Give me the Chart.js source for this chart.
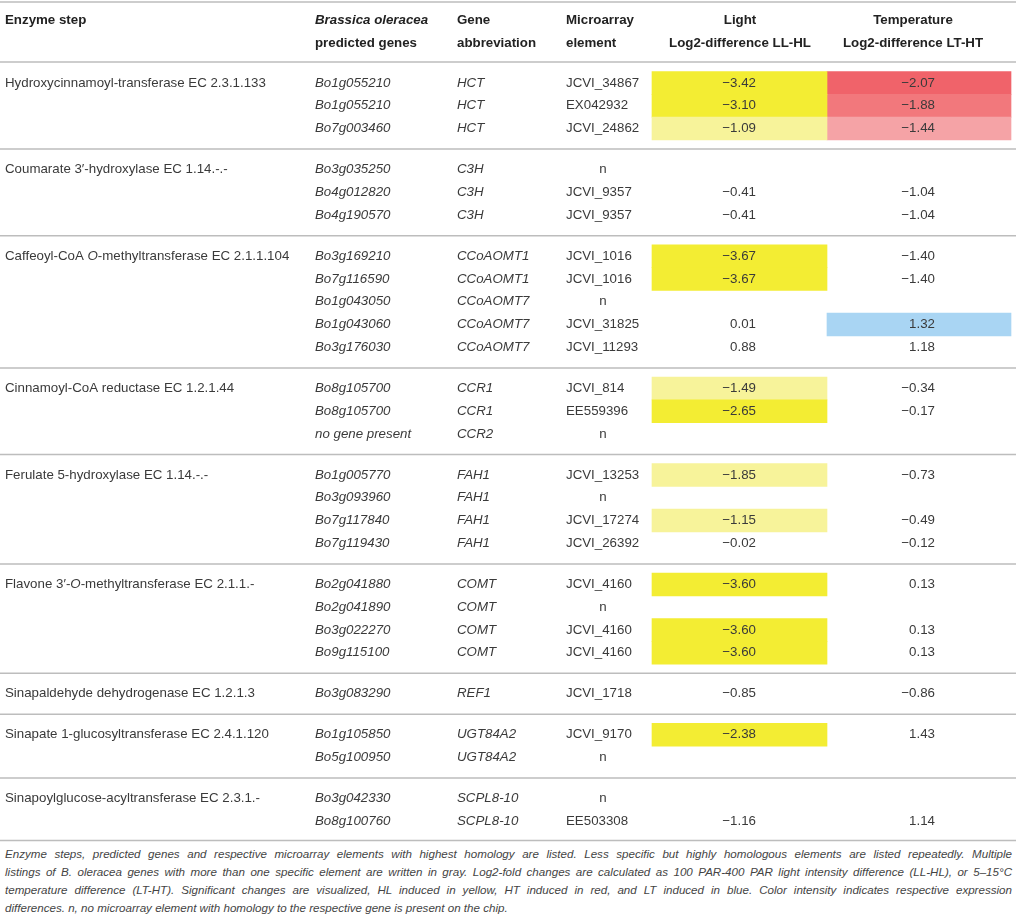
<!DOCTYPE html>
<html lang="en">
<head>
  <meta charset="UTF-8" />
  <title>Phenylpropanoid genes – log2 differences</title>
  <script src="https://cdn.jsdelivr.net/npm/chart.js"></script>
  <style>
    body {
      margin: 0;
      padding: 0;
      background: #fff;
      font-family: "Liberation Sans", Arial, sans-serif;
    }

    .wrap {
      position: relative;
      width: 1016px;
      height: 917px;
    }

    .caption {
      position: absolute;
      left: 5px;
      top: 845px;
      width: 1007px;
      font-size: 11.6px;
      font-style: italic;
      line-height: 18px;
      color: #444;
    }

    .caption div {
      white-space: nowrap;
      text-align: justify;
      text-align-last: justify;
    }

    .caption div.last {
      text-align-last: left;
    }
  </style>
</head>
<body>

  <div class="wrap">
    <canvas id="table" width="1016" height="845"></canvas>
    <div class="caption">
      <div>Enzyme steps, predicted genes and respective microarray elements with highest homology are listed. Less specific but highly homologous elements are listed repeatedly. Multiple</div>
      <div>listings of B. oleracea genes with more than one specific element are written in gray. Log2-fold changes are calculated as 100 PAR-400 PAR light intensity difference (LL-HL), or 5–15°C</div>
      <div>temperature difference (LT-HT). Significant changes are visualized, HL induced in yellow, HT induced in red, and LT induced in blue. Color intensity indicates respective expression</div>
      <div class="last">differences. n, no microarray element with homology to the respective gene is present on the chip.</div>
    </div>
  </div>

  <script>
    // enzyme steps (one per group), *...* = italic
    const enzymeSteps = [
      "Hydroxycinnamoyl-transferase EC 2.3.1.133",
      "Coumarate 3′-hydroxylase EC 1.14.-.-",
      "Caffeoyl-CoA *O*-methyltransferase EC 2.1.1.104",
      "Cinnamoyl-CoA reductase EC 1.2.1.44",
      "Ferulate 5-hydroxylase EC 1.14.-.-",
      "Flavone 3′-*O*-methyltransferase EC 2.1.1.-",
      "Sinapaldehyde dehydrogenase EC 1.2.1.3",
      "Sinapate 1-glucosyltransferase EC 2.4.1.120",
      "Sinapoylglucose-acyltransferase EC 2.3.1.-"
    ];

    const rowStep = [0,0,0, 1,1,1, 2,2,2,2,2, 3,3,3, 4,4,4,4, 5,5,5,5, 6, 7,7, 8,8];

    const genes = [
      "Bo1g055210","Bo1g055210","Bo7g003460",
      "Bo3g035250","Bo4g012820","Bo4g190570",
      "Bo3g169210","Bo7g116590","Bo1g043050","Bo1g043060","Bo3g176030",
      "Bo8g105700","Bo8g105700","no gene present",
      "Bo1g005770","Bo3g093960","Bo7g117840","Bo7g119430",
      "Bo2g041880","Bo2g041890","Bo3g022270","Bo9g115100",
      "Bo3g083290",
      "Bo1g105850","Bo5g100950",
      "Bo3g042330","Bo8g100760"
    ];

    const geneAbbr = [
      "HCT","HCT","HCT",
      "C3H","C3H","C3H",
      "CCoAOMT1","CCoAOMT1","CCoAOMT7","CCoAOMT7","CCoAOMT7",
      "CCR1","CCR1","CCR2",
      "FAH1","FAH1","FAH1","FAH1",
      "COMT","COMT","COMT","COMT",
      "REF1",
      "UGT84A2","UGT84A2",
      "SCPL8-10","SCPL8-10"
    ];

    const elements = [
      "JCVI_34867","EX042932","JCVI_24862",
      "n","JCVI_9357","JCVI_9357",
      "JCVI_1016","JCVI_1016","n","JCVI_31825","JCVI_11293",
      "JCVI_814","EE559396","n",
      "JCVI_13253","n","JCVI_17274","JCVI_26392",
      "JCVI_4160","n","JCVI_4160","JCVI_4160",
      "JCVI_1718",
      "JCVI_9170","n",
      "n","EE503308"
    ];

    const lightDiff = [
      -3.42,-3.10,-1.09,
      null,-0.41,-0.41,
      -3.67,-3.67,null,0.01,0.88,
      -1.49,-2.65,null,
      -1.85,null,-1.15,-0.02,
      -3.60,null,-3.60,-3.60,
      -0.85,
      -2.38,null,
      null,-1.16
    ];

    const tempDiff = [
      -2.07,-1.88,-1.44,
      null,-1.04,-1.04,
      -1.40,-1.40,null,1.32,1.18,
      -0.34,-0.17,null,
      -0.73,null,-0.49,-0.12,
      0.13,null,0.13,0.13,
      -0.86,
      1.43,null,
      null,1.14
    ];

    // significance shading: 0 none, 1 light, 2 strong (HL induced, yellow)
    const lightShade = [2,2,1, 0,0,0, 2,2,0,0,0, 1,2,0, 1,0,1,0, 2,0,2,2, 0, 2,0, 0,0];
    // r1..r3 HT induced (red intensity), b LT induced (blue)
    const tempShade = ["r3","r2","r1", "","","", "","","","b","", "","","", "","","","", "","","","", "", "","", "",""];

    // layout
    const FIRST_ROW = 83, PITCH = 22.8, GAP = 18.2;
    const COL = {
      step: 5, gene: 315, abbr: 457, elem: 566, elemN: 603,
      light: [652, 827], lightNum: 756, lightHead: 740,
      temp: [827, 1011], tempNum: 935, tempHead: 913
    };
    const lightColors = { 1: "#f7f39a", 2: "#f3ed33" };
    const tempColors = { r1: "#f5a3a6", r2: "#f2787c", r3: "#f0636a", b: "#a9d5f3" };
    const FONT = '"Liberation Sans", Arial, sans-serif';
    const SIZE = "13.3px ";

    const rowY = rowStep.map((g, i) => FIRST_ROW + i * PITCH + g * GAP);

    const lightCells = [];
    lightShade.forEach((s, i) => {
      if (s) lightCells.push({ x: COL.light, y: rowY[i], c: lightColors[s] });
    });
    const tempCells = [];
    tempShade.forEach((s, i) => {
      if (s) tempCells.push({ x: COL.temp, y: rowY[i], c: tempColors[s] });
    });

    // rule positions: top, below header, between groups, bottom
    function rulePositions() {
      const out = [2, rowY[0] - 21];
      for (let i = 1; i < rowY.length; i++) {
        if (rowStep[i] !== rowStep[i - 1]) out.push((rowY[i] + rowY[i - 1]) / 2);
      }
      out.push(rowY[rowY.length - 1] + 19);
      return out;
    }

    function fmt(v) {
      if (v === null) return "";
      return (v < 0 ? "\u2212" : "") + Math.abs(v).toFixed(2);
    }

    // draws text with *italic* segments
    function richText(ctx, str, x, y, opts) {
      const bold = opts.bold ? "bold " : "";
      const baseItalic = !!opts.italic;
      const parts = str.split("*");
      const segs = parts.map((t, k) => ({ t, it: (k % 2 === 1) !== baseItalic }));
      const fontFor = s => (s.it ? "italic " : "") + bold + SIZE + FONT;
      let total = 0;
      segs.forEach(s => { ctx.font = fontFor(s); total += ctx.measureText(s.t).width; });
      let cx = x;
      if (opts.align === "center") cx = x - total / 2;
      if (opts.align === "right") cx = x - total;
      ctx.textAlign = "left";
      segs.forEach(s => {
        ctx.font = fontFor(s);
        ctx.fillText(s.t, cx, y);
        cx += ctx.measureText(s.t).width;
      });
    }

    const tableText = {
      id: "tableText",
      beforeDatasetsDraw(chart) {
        const { ctx, scales: { x, y } } = chart;
        ctx.save();
        ctx.strokeStyle = "#bdbdbd";
        ctx.lineWidth = 1.5;
        rulePositions().forEach(r => {
          const py = y.getPixelForValue(r);
          ctx.beginPath();
          ctx.moveTo(x.getPixelForValue(0), py);
          ctx.lineTo(x.getPixelForValue(1016), py);
          ctx.stroke();
        });
        ctx.restore();
      },
      afterDatasetsDraw(chart) {
        const { ctx, scales: { x, y } } = chart;
        const X = v => x.getPixelForValue(v);
        const Y = v => y.getPixelForValue(v);
        ctx.save();
        ctx.textBaseline = "middle";

        // header
        ctx.fillStyle = "#222";
        const h1 = Y(20), h2 = Y(43);
        richText(ctx, "Enzyme step", X(COL.step), h1, { bold: true });
        richText(ctx, "*Brassica oleracea*", X(COL.gene), h1, { bold: true });
        richText(ctx, "predicted genes", X(COL.gene), h2, { bold: true });
        richText(ctx, "Gene", X(COL.abbr), h1, { bold: true });
        richText(ctx, "abbreviation", X(COL.abbr), h2, { bold: true });
        richText(ctx, "Microarray", X(COL.elem), h1, { bold: true });
        richText(ctx, "element", X(COL.elem), h2, { bold: true });
        richText(ctx, "Light", X(COL.lightHead), h1, { bold: true, align: "center" });
        richText(ctx, "Log2-difference LL-HL", X(COL.lightHead), h2, { bold: true, align: "center" });
        richText(ctx, "Temperature", X(COL.tempHead), h1, { bold: true, align: "center" });
        richText(ctx, "Log2-difference LT-HT", X(COL.tempHead), h2, { bold: true, align: "center" });

        // body
        ctx.fillStyle = "#3a3a3a";
        rowY.forEach((ry, i) => {
          const py = Y(ry);
          if (i === 0 || rowStep[i] !== rowStep[i - 1]) {
            richText(ctx, enzymeSteps[rowStep[i]], X(COL.step), py, {});
          }
          richText(ctx, genes[i], X(COL.gene), py, { italic: true });
          richText(ctx, geneAbbr[i], X(COL.abbr), py, { italic: true });
          if (elements[i] === "n") {
            richText(ctx, "n", X(COL.elemN), py, { align: "center" });
          } else {
            richText(ctx, elements[i], X(COL.elem), py, {});
          }
          richText(ctx, fmt(lightDiff[i]), X(COL.lightNum), py, { align: "right" });
          richText(ctx, fmt(tempDiff[i]), X(COL.tempNum), py, { align: "right" });
        });
        ctx.restore();
      }
    };

    new Chart(document.getElementById("table"), {
      type: "bar",
      data: {
        datasets: [
          {
            label: "Light",
            data: lightCells,
            backgroundColor: c => c.raw ? c.raw.c : "transparent",
            borderWidth: 0
          },
          {
            label: "Temperature",
            data: tempCells,
            backgroundColor: c => c.raw ? c.raw.c : "transparent",
            borderWidth: 0
          }
        ]
      },
      options: {
        indexAxis: "y",
        responsive: false,
        animation: false,
        grouped: false,
        barThickness: PITCH,
        layout: { padding: 0 },
        plugins: {
          legend: { display: false },
          tooltip: { enabled: false }
        },
        scales: {
          x: { type: "linear", min: 0, max: 1016, display: false },
          y: { type: "linear", min: 0, max: 845, reverse: true, offset: false, display: false }
        }
      },
      plugins: [tableText]
    });
  </script>
</body>
</html>
